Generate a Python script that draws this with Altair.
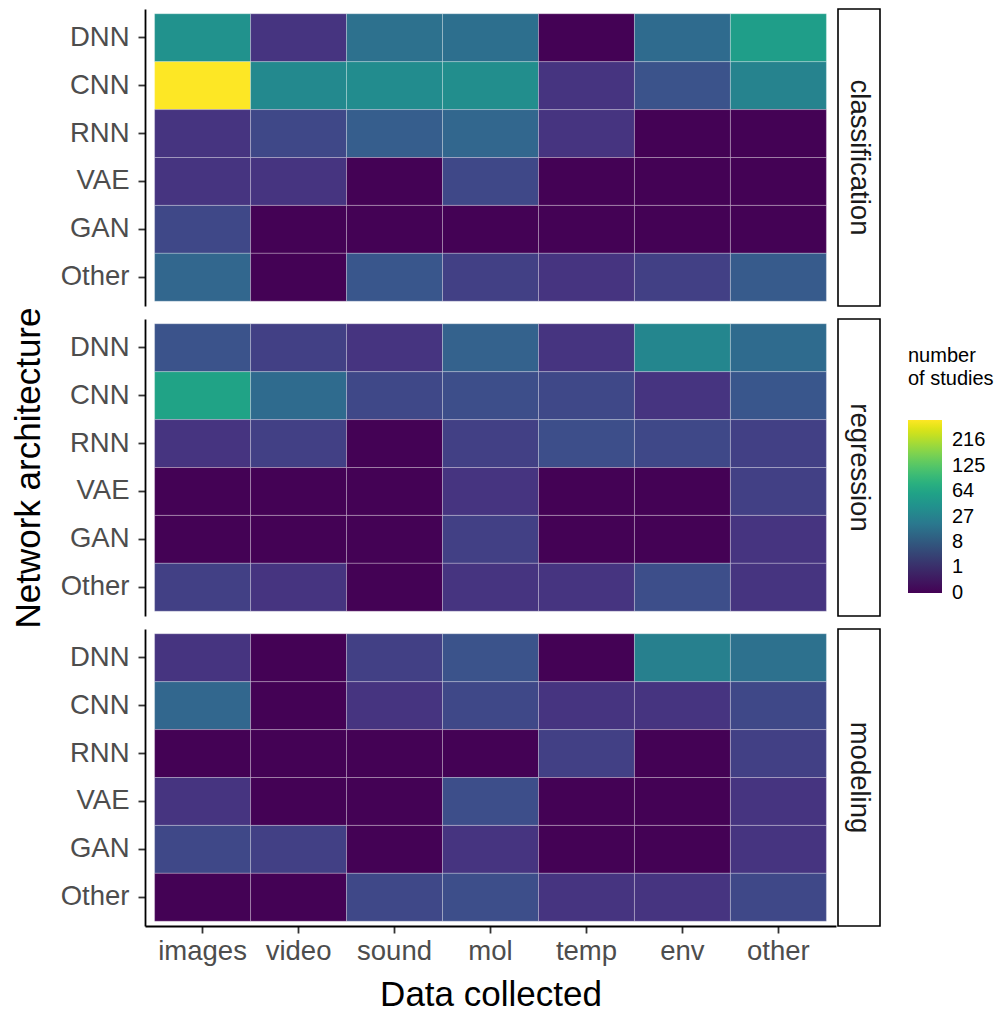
import altair as alt
import pandas as pd

FONT = "Liberation Sans"

architectures = ["DNN", "CNN", "RNN", "VAE", "GAN", "Other"]
data_collected = ["images", "video", "sound", "mol", "temp", "env", "other"]
tasks = ["classification", "regression", "modeling"]

# number of studies: rows = architectures, columns = data collected
classification = [
    [40, 1, 16, 15, 0, 13, 55],
    [315, 33, 35, 37, 1, 5, 27],
    [1, 3, 8, 11, 1, 0, 0],
    [1, 1, 0, 3, 0, 0, 0],
    [3, 0, 0, 0, 0, 0, 0],
    [11, 0, 6, 2, 1, 2, 7],
]
regression = [
    [5, 2, 1, 9, 1, 30, 13],
    [61, 13, 3, 4, 3, 1, 6],
    [1, 2, 0, 2, 4, 3, 2],
    [0, 0, 0, 1, 0, 0, 2],
    [0, 0, 0, 2, 0, 0, 1],
    [2, 1, 0, 1, 1, 4, 1],
]
modeling = [
    [1, 0, 2, 5, 0, 25, 16],
    [11, 0, 1, 3, 1, 1, 3],
    [0, 0, 0, 0, 2, 0, 2],
    [1, 0, 0, 4, 0, 0, 1],
    [3, 2, 0, 1, 0, 0, 1],
    [0, 0, 3, 4, 1, 1, 3],
]
legend_breaks = [0, 1, 8, 27, 64, 125, 216]
color_domain = [-0.000001, 315]  # tiny offset keeps the "0" label centred on the bar end

matrices = {"classification": classification, "regression": regression, "modeling": modeling}
rows = []
for t in tasks:
    for i, a in enumerate(architectures):
        for j, d in enumerate(data_collected):
            rows.append({"task": t, "arch": a, "data": d, "studies": matrices[t][i][j]})
df = pd.DataFrame(rows)

W, H = 691, 297
STRIP_W = 42

axis_style = dict(
    domainColor="black", domainWidth=1.8, tickColor="#333333", tickWidth=1.8, tickSize=7,
    labelFont=FONT, labelFontSize=27.5, labelColor="#4d4d4d",
    titleFont=FONT, titleFontSize=35, titleFontWeight="normal", titleColor="black",
    grid=False,
)

color = alt.Color(
    "studies:Q",
    scale=alt.Scale(type="pow", exponent=1 / 3, domain=color_domain, scheme="viridis"),
    legend=alt.Legend(
        title=["number", "of studies"], orient="none", legendX=763, legendY=337,
        values=legend_breaks, direction="vertical",
        gradientLength=173, gradientThickness=34, gradientStrokeWidth=0,
        titleFont=FONT, titleFontSize=20, titleFontWeight="normal", titleColor="black",
        titleLineHeight=23, titlePadding=31,
        labelFont=FONT, labelFontSize=20, labelColor="black", labelOffset=10,
        labelOverlap=False,
    ),
)


def heat(task, idx):
    sub = df[df.task == task]
    if idx == 2:
        xaxis = alt.Axis(title="Data collected", labelAngle=0, labelPadding=4, titlePadding=13, **axis_style)
    else:
        xaxis = None
    yaxis = alt.Axis(
        title="Network architecture" if idx == 1 else None,
        labelPadding=9, titlePadding=14, **axis_style
    )
    return (
        alt.Chart(sub)
        .mark_rect(stroke="white", strokeWidth=1, strokeOpacity=0.25)
        .encode(
            x=alt.X("data:N", scale=alt.Scale(domain=data_collected, paddingInner=0, paddingOuter=0.1), axis=xaxis),
            y=alt.Y("arch:N", scale=alt.Scale(domain=architectures, paddingInner=0, paddingOuter=0.1), axis=yaxis),
            color=color,
            tooltip=["task", "arch", "data", "studies"],
        )
        .properties(width=W, height=H)
    )


def strip(task):
    return (
        alt.Chart(pd.DataFrame({"task": [task]}))
        .mark_text(angle=90, font=FONT, fontSize=27.5, color="#1a1a1a")
        .encode(text="task:N")
        .properties(
            width=STRIP_W, height=H,
            view=alt.ViewBackground(fill="white", stroke="black", strokeWidth=1.6),
        )
    )


cells = []
for i, t in enumerate(tasks):
    cells.append(heat(t, i))
    cells.append(strip(t))

chart = (
    alt.concat(*cells, columns=2, spacing={"row": 13, "column": 2}, bounds="flush")
    .properties(padding={"left": 3, "top": 0, "right": 0, "bottom": 0}, background="white")
    .configure_view(strokeWidth=0)
)

chart.save("out.html", embed_options={"renderer": "svg", "actions": False})
